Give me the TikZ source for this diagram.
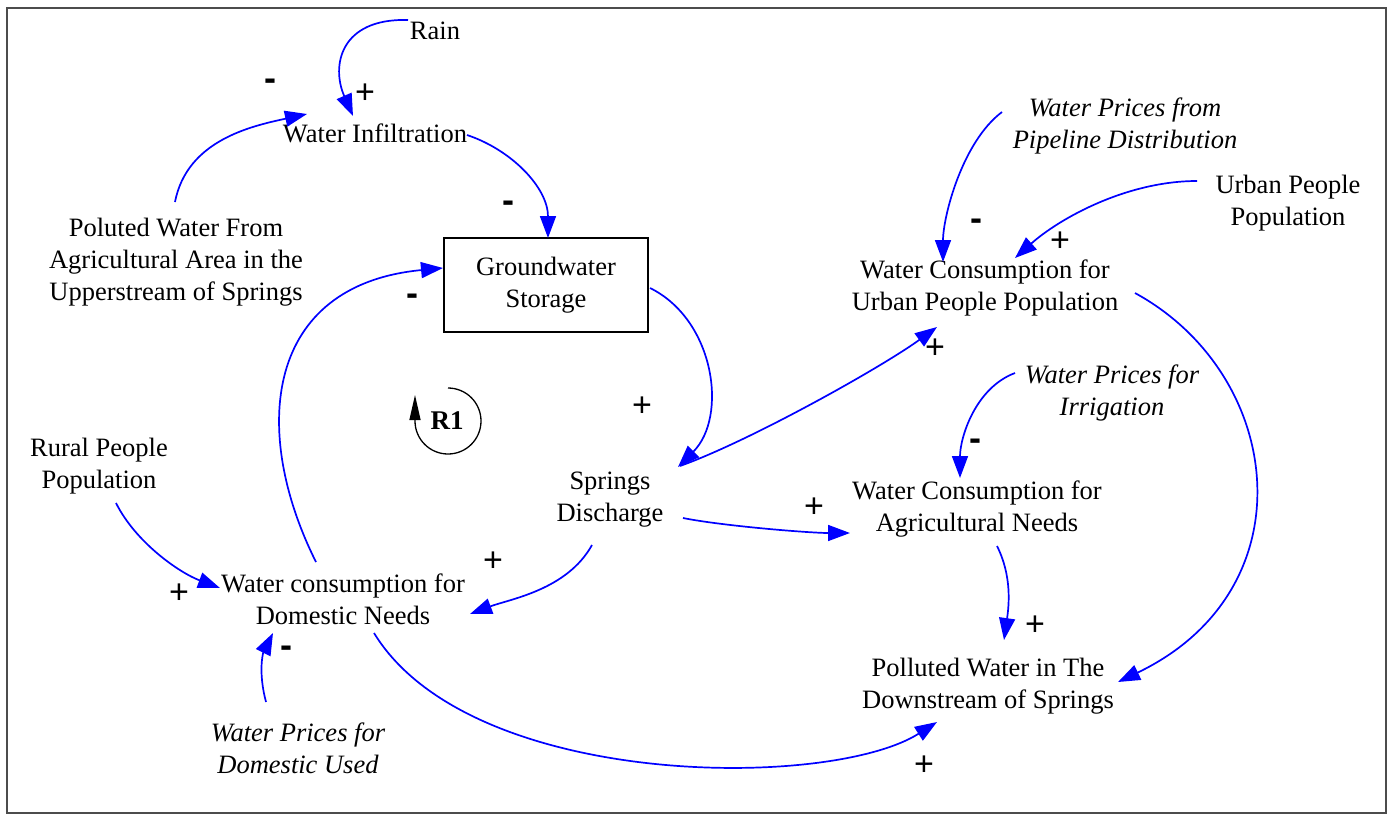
\documentclass[tikz,border=0pt]{standalone}
\usepackage{fontspec}
\setmainfont{Liberation Serif}
\newfontfamily\signfont{Liberation Sans}
\usetikzlibrary{arrows.meta,calc}
\tikzset{
  var/.style={align=center, font=\fontsize{26.5}{32}\selectfont, inner sep=1pt, text=black},
  ivar/.style={align=center, font=\fontsize{26.5}{32}\selectfont\itshape, inner sep=1pt, text=black},
  link/.style={blue, line width=1.7pt, -{Triangle[length=22pt,width=16pt]}},
  sgn/.style={font=\signfont\fontsize{34}{34}\selectfont, inner sep=0pt},
  neg/.style={font=\signfont\bfseries\fontsize{36}{36}\selectfont, inner sep=0pt},
  stockbox/.style={draw, line width=1.4pt, minimum width=204pt, minimum height=94pt, align=center, font=\fontsize{26.5}{32}\selectfont}
}
\begin{document}
\begin{tikzpicture}[x=1pt,y=-1pt]
\useasboundingbox (0,0) rectangle (1392,820);
\draw[line width=2.2pt, black!70] (7,8) rectangle (1386,813);

% nodes
\node[var] (rain) at (435,31) {Rain};
\node[var] (infil) at (375,133) {Water Infiltration};
\node[var] (polag) at (176,262) {Poluted Water From\\Agricultural Area in the\\Upperstream of Springs};
\node[stockbox] (gw) at (546,285) {Groundwater\\Storage};
\node[ivar] (pipe) at (1125,126) {Water Prices from\\Pipeline Distribution};
\node[var] (urbpop) at (1288,203) {Urban People\\Population};
\node[var] (urbc) at (985,288) {Water Consumption for\\Urban People Population};
\node[ivar] (irrp) at (1112,393) {Water Prices for\\Irrigation};
\node[var] (rural) at (99,466) {Rural People\\Population};
\node[var] (springs) at (610,500) {Springs\\Discharge};
\node[var] (agri) at (977,509) {Water Consumption for\\Agricultural Needs};
\node[var] (dom) at (343,599) {Water consumption for\\Domestic Needs};
\node[var] (poll) at (988,686) {Polluted Water in The\\Downstream of Springs};
\node[ivar] (domp) at (298,748) {Water Prices for\\Domestic Used};
\node[font=\bfseries\fontsize{27}{30}\selectfont, inner sep=0pt] (r1) at (447,421) {R1};

% loop marker
\draw[black, line width=1.3pt, -{Triangle[length=25pt,width=11pt]}]
  ($(r1)+(1,-33)$) arc[start angle=90, end angle=-180, radius=33pt] -- ++(0,-26);

% links
\draw[link] ($(rain)+(-27,-11)$) .. controls +(-68,-2) and +(-22,-50) .. ($(infil)+(-22,-17)$);
\draw[link] ($(polag)+(-1,-60)$) .. controls +(12,-62) and +(-55,12) .. ($(infil)+(-68,-19)$);
\draw[link] ($(infil)+(92,2)$) .. controls +(45,15) and +(0,-50) .. ($(gw)+(2,-47)$);
\draw[link] ($(dom)+(-27,-37)$) .. controls +(-66,-132) and +(-178,17) .. ($(gw)+(-103,-17)$);
\draw[link] ($(gw)+(104,3)$) .. controls +(65,32) and +(50,-50) .. ($(springs)+(68,-33)$);
\draw[link] ($(springs)+(70,-34)$) .. controls +(70,-25) and +(-55,40) .. ($(urbc)+(-48,39)$);
\draw[link] ($(springs)+(73,18)$) .. controls +(40,8) and +(-40,0) .. ($(agri)+(-127,24)$);
\draw[link] ($(springs)+(-18,45)$) .. controls +(-25,45) and +(40,-15) .. ($(dom)+(127,15)$);
\draw[link] ($(rural)+(17,37)$) .. controls +(20,40) and +(-40,-15) .. ($(dom)+(-123,-11)$);
\draw[link] ($(domp)+(-32,-46)$) .. controls +(-8,-30) and +(-10,20) .. ($(dom)+(-70,34)$);
\draw[link] ($(dom)+(31,34)$) .. controls +(96,157) and +(-107,68) .. ($(poll)+(-51,36)$);
\draw[link] ($(agri)+(20,37)$) .. controls +(15,30) and +(5,-35) .. ($(poll)+(16,-46)$);
\draw[link] ($(urbc)+(150,5)$) .. controls +(150,82) and +(192,-92) .. ($(poll)+(130,-4)$);
\draw[link] ($(pipe)+(-123,-14)$) .. controls +(-40,30) and +(0,-45) .. ($(urbc)+(-42,-26)$);
\draw[link] ($(urbpop)+(-91,-22)$) .. controls +(-70,0) and +(45,-40) .. ($(urbc)+(30,-30)$);
\draw[link] ($(irrp)+(-97,-20)$) .. controls +(-40,15) and +(0,-40) .. ($(agri)+(-17,-31)$);

% polarity signs
\node[sgn] (s1) at (365,94) {+};
\node[neg] (s2) at (270,85) {-};
\node[neg] (s3) at (508,207) {-};
\node[neg] (s4) at (412,300) {-};
\node[sgn] (s5) at (642,407) {+};
\node[sgn] (s6) at (935,349) {+};
\node[sgn] (s7) at (814,508) {+};
\node[sgn] (s8) at (493,562) {+};
\node[sgn] (s9) at (179,594) {+};
\node[neg] (s10) at (286,652) {-};
\node[sgn] (s11) at (924,766) {+};
\node[sgn] (s12) at (1035,626) {+};
\node[neg] (s13) at (976,225) {-};
\node[sgn] (s14) at (1060,242) {+};
\node[neg] (s15) at (975,445) {-};
\end{tikzpicture}
\end{document}
